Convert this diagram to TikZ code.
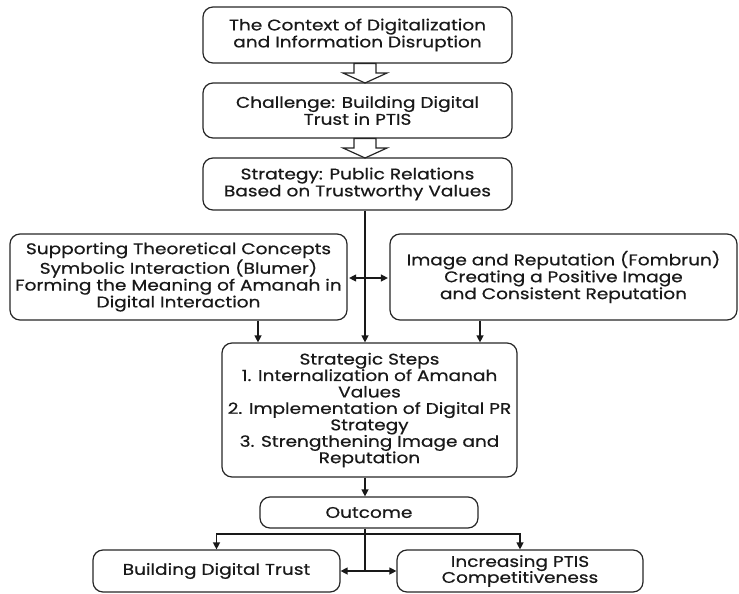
\documentclass[tikz,border=0pt]{standalone}
\usepackage{fontspec}
\setmainfont{Poppins}[FakeStretch=1.2, FakeBold=0.6]
\usetikzlibrary{arrows.meta}
\begin{document}
\begin{tikzpicture}[x=1bp,y=-1bp,
  box/.style={draw=black!85, line width=1.2bp, rounded corners=10bp, inner sep=0pt,
    align=center, text=black!90, font=\fontsize{15.5}{17}\selectfont},
  conn/.style={line width=1.3bp, draw=black!90, -{Triangle[length=7bp,width=7bp]}},
  dconn/.style={line width=1.3bp, draw=black!90, {Triangle[length=7bp,width=7bp]}-{Triangle[length=7bp,width=7bp]}},
  plain/.style={line width=1.3bp, draw=black!90},
  hollow/.style={line width=1.2bp, draw=black!85, fill=white, line join=miter}]
\useasboundingbox (0,0) rectangle (739,594);
\coordinate (mid) at (365,0);
\coordinate (la) at (258,0);
\coordinate (ra) at (480,0);
\coordinate (da) at (0,278);
\coordinate (db) at (0,571);

\node[box, minimum width=309bp, minimum height=56bp] (b1) at (357.5,35)
  {The Context of Digitalization\\and Information Disruption};
\node[box, minimum width=309bp, minimum height=55bp] (b2) at (357.5,110.5)
  {Challenge: Building Digital\\Trust in PTIS};
\node[box, minimum width=309bp, minimum height=52bp] (b3) at (357.5,184)
  {Strategy: Public Relations\\Based on Trustworthy Values};
\node[box, minimum width=337bp, minimum height=86bp, font=\fontsize{15.5}{15.5}\selectfont] (L) at (178.5,277)
  {Supporting Theoretical Concepts\\Symbolic Interaction (Blumer)\\Forming the Meaning of Amanah in\\Digital Interaction};
\node[box, minimum width=347bp, minimum height=86bp, font=\fontsize{15.5}{15.5}\selectfont] (R) at (563.5,277)
  {Image and Reputation (Fombrun)\\Creating a Positive Image\\and Consistent Reputation};
\node[box, minimum width=295bp, minimum height=134bp, font=\fontsize{15.5}{16.5}\selectfont] (S) at (369.5,410)
  {Strategic Steps\\1. Internalization of Amanah\\Values\\2. Implementation of Digital PR\\Strategy\\3. Strengthening Image and\\Reputation};
\node[box, minimum width=218bp, minimum height=31bp] (O) at (369,512.5) {Outcome};
\node[box, minimum width=247bp, minimum height=42bp] (BL) at (216.5,571) {Building Digital Trust};
\node[box, minimum width=246bp, minimum height=42bp, font=\fontsize{15.5}{16}\selectfont] (BR) at (520,571) {Increasing PTIS\\Competitiveness};

% hollow arrows
\draw[hollow] (354,63.6) -- (354,73) -- (343,73) -- (365,83) -- (387,73) -- (376,73) -- (376,63.6) -- cycle;
\draw[hollow] (354,138.6) -- (354,148) -- (343,148) -- (365,158) -- (387,148) -- (376,148) -- (376,138.6) -- cycle;

% connectors
\draw[conn] (b3.south -| mid) -- (S.north -| mid);
\draw[dconn, shorten <=1.5bp, shorten >=1.5bp] (L.east |- da) -- (R.west |- da);
\draw[conn] (L.south -| la) -- (S.north -| la);
\draw[conn] (R.south -| ra) -- (S.north -| ra);
\draw[conn] (S.south -| mid) -- (O.north -| mid);
\coordinate (br) at (365,534);
\draw[conn] (O.south -| mid) -- (br) -| (BL.north);
\draw[conn] (br) -| (BR.north);
\draw[plain] (br) -- (mid |- db);
\draw[conn] (mid |- db) -- (BL.east |- db);
\draw[conn] (mid |- db) -- (BR.west |- db);
\end{tikzpicture}
\end{document}
